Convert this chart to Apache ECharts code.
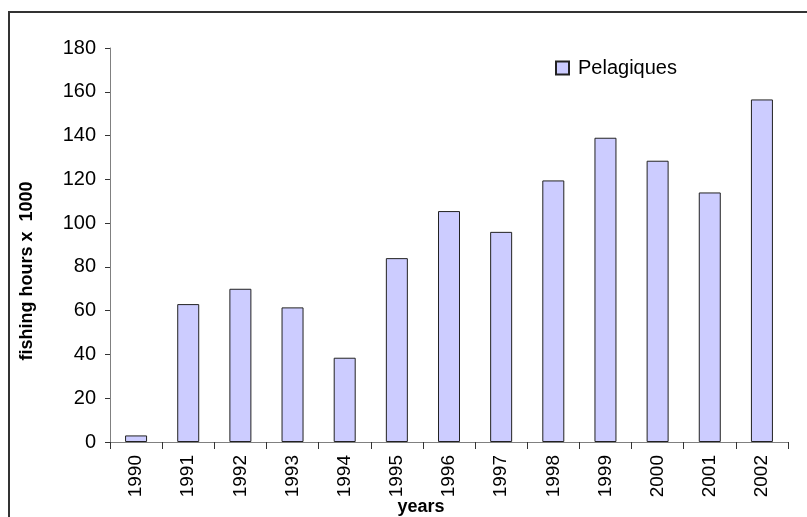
<!DOCTYPE html>
<html>
<head>
<meta charset="utf-8">
<script src="https://cdn.jsdelivr.net/npm/echarts@6/dist/echarts.min.js"></script>
<style>
  html, body { margin: 0; padding: 0; background: #fff; }
  #chart { width: 807px; height: 517px; }
</style>
</head>
<body>
<div id="chart"></div>
<script>
var years = ['1990', '1991', '1992', '1993', '1994', '1995', '1996', '1997', '1998', '1999', '2000', '2001', '2002'];
var pelagiques = [3, 63, 70, 61.5, 38.5, 84, 105.5, 96, 119.5, 139, 128.5, 114, 156.5];
var yTicks = [0, 20, 40, 60, 80, 100, 120, 140, 160, 180];

var myChart = echarts.init(document.getElementById('chart'));
var font = 'Liberation Sans, Arial, sans-serif';

var option = {
  animation: false,
  backgroundColor: '#fff',
  textStyle: { fontFamily: font },
  grid: { left: 110, right: 19, top: 48, bottom: 75 },
  legend: {
    left: 550,
    top: 53,
    icon: 'rect',
    itemWidth: 13,
    itemHeight: 13,
    textStyle: { fontSize: 20, color: '#000', fontFamily: font, padding: [0, 0, 0, 4] },
    data: ['Pelagiques']
  },
  xAxis: {
    type: 'category',
    data: years,
    boundaryGap: true,
    axisLine: { lineStyle: { color: '#808080', width: 1 } },
    axisTick: { show: true, length: 7, lineStyle: { color: '#333' } },
    axisLabel: { rotate: 90, fontSize: 19, color: '#000', margin: 13, fontFamily: font }
  },
  yAxis: {
    type: 'value',
    min: yTicks[0],
    max: yTicks[yTicks.length - 1],
    interval: 20,
    splitLine: { show: false },
    axisLine: { show: true, lineStyle: { color: '#808080', width: 1 } },
    axisTick: { show: true, length: 5, lineStyle: { color: '#333' } },
    axisLabel: { fontSize: 20, color: '#000', margin: 14, fontFamily: font }
  },
  series: [{
    name: 'Pelagiques',
    type: 'bar',
    data: pelagiques,
    barWidth: 22,
    itemStyle: { color: '#ccccff', borderColor: '#222', borderWidth: 1 }
  }],
  graphic: [
    {
      type: 'rect',
      shape: { x: 9, y: 12, width: 840, height: 540 },
      style: { fill: 'none', stroke: '#333', lineWidth: 2 },
      silent: true
    },
    {
      type: 'text',
      x: 27, y: 271,
      rotation: Math.PI / 2,
      style: {
        text: 'fishing hours x  1000',
        font: 'bold 18px ' + font,
        fill: '#000',
        align: 'center',
        verticalAlign: 'middle'
      }
    },
    {
      type: 'text',
      x: 421, y: 507,
      style: {
        text: 'years',
        font: 'bold 18px ' + font,
        fill: '#000',
        align: 'center',
        verticalAlign: 'middle'
      }
    }
  ]
};

myChart.setOption(option);
</script>
</body>
</html>
